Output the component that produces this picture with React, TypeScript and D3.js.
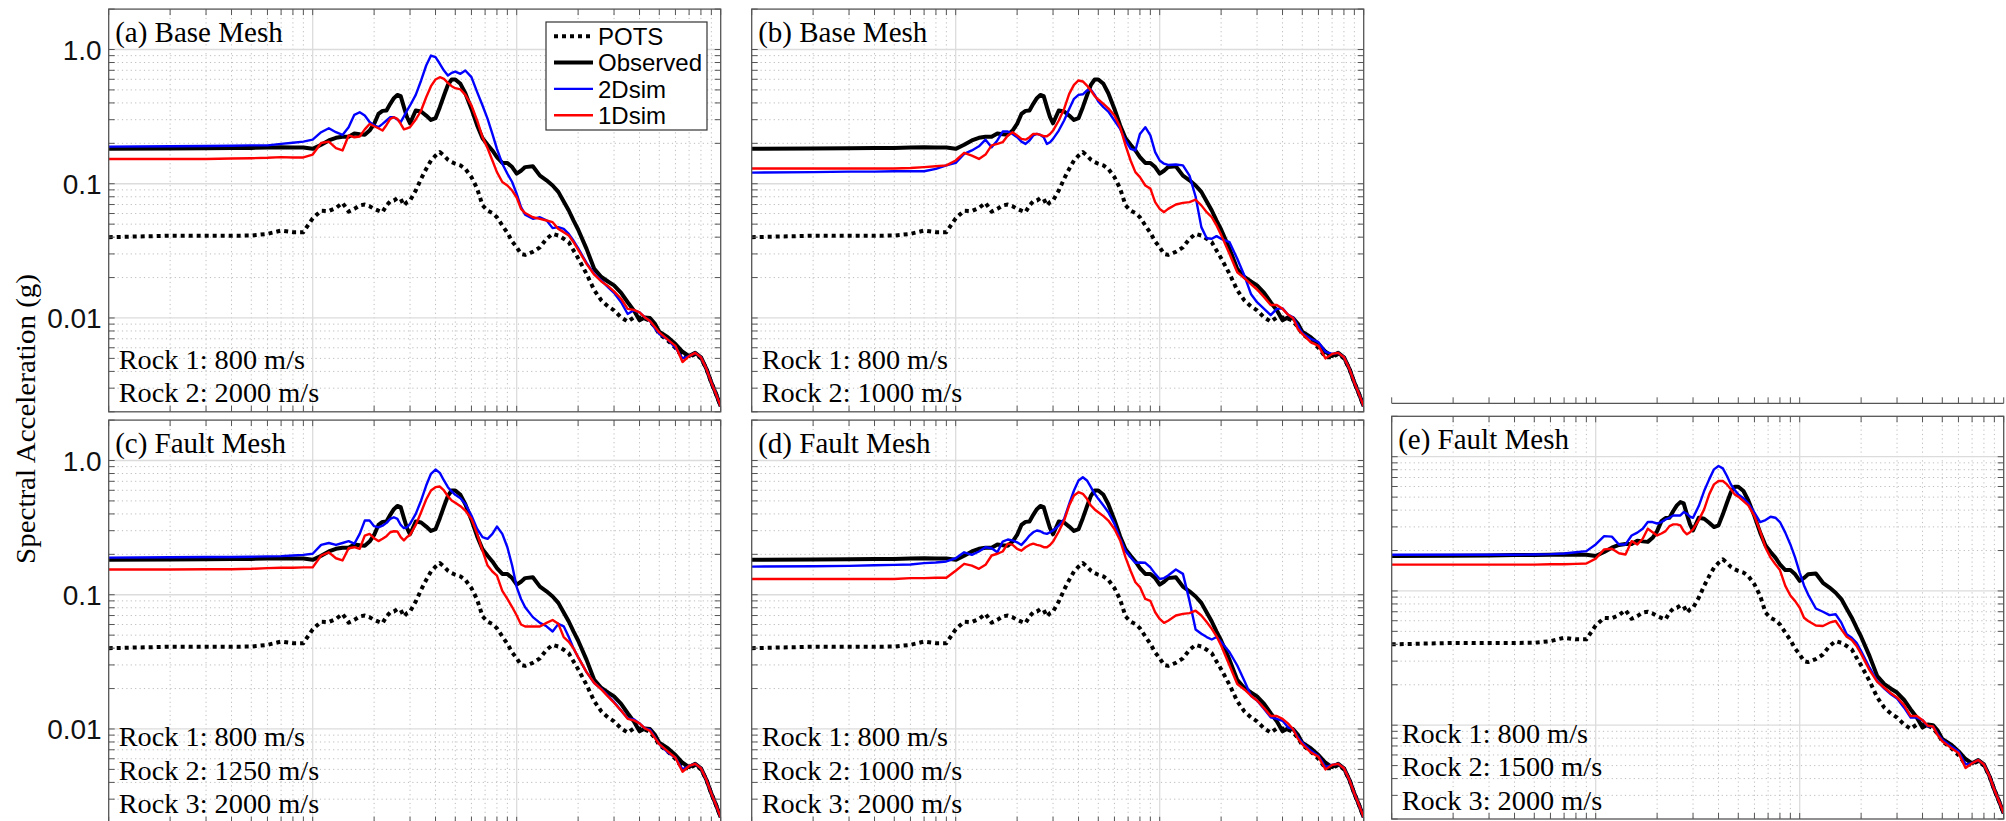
import React from 'react';
import * as d3 from 'd3';

// Period (s)
const periods = [
  0.01, 0.02, 0.03, 0.04, 0.05, 0.06, 0.07, 0.08, 0.09, 0.1,
  0.11, 0.12, 0.13, 0.14, 0.15, 0.16, 0.17, 0.18, 0.19, 0.2,
  0.21, 0.22, 0.23, 0.24, 0.25, 0.26, 0.27, 0.28, 0.29, 0.3,
  0.32, 0.34, 0.36, 0.38, 0.4, 0.42, 0.44, 0.46, 0.48, 0.5,
  0.53, 0.56, 0.6, 0.64, 0.68, 0.72, 0.76, 0.8, 0.85, 0.9,
  0.95, 1.0, 1.05, 1.1, 1.2, 1.3, 1.4, 1.5, 1.6, 1.7,
  1.8, 1.9, 2.0, 2.2, 2.4, 2.6, 2.8, 3.0, 3.25, 3.5,
  3.75, 4.0, 4.25, 4.5, 4.75, 5.0, 5.5, 6.0, 6.5, 7.0,
  7.5, 8.0, 8.5, 9.0, 9.5, 10,
];

const observedSA = [
  0.182, 0.183, 0.184, 0.185, 0.185, 0.186, 0.187, 0.186, 0.186, 0.182,
  0.195, 0.210, 0.220, 0.224, 0.224, 0.237, 0.234, 0.232, 0.249, 0.279,
  0.331, 0.349, 0.351, 0.394, 0.434, 0.459, 0.449, 0.372, 0.313, 0.282,
  0.351, 0.345, 0.322, 0.299, 0.308, 0.372, 0.454, 0.545, 0.598, 0.598,
  0.555, 0.472, 0.361, 0.272, 0.218, 0.195, 0.177, 0.158, 0.143, 0.143,
  0.133, 0.119, 0.125, 0.133, 0.135, 0.115, 0.106, 0.097, 0.087, 0.0737,
  0.0632, 0.0532, 0.0456, 0.0327, 0.0232, 0.0202, 0.0187, 0.0175, 0.0154, 0.0131,
  0.0114, 0.0096, 0.0101, 0.0100, 0.0091, 0.0079, 0.0072, 0.0064, 0.0056, 0.0052,
  0.0055, 0.0051, 0.0042, 0.0033, 0.0027, 0.0022,
];

const potsSA = [
  0.040, 0.041, 0.041, 0.041, 0.0411, 0.0423, 0.0448, 0.0436, 0.0436, 0.0553,
  0.063, 0.0626, 0.066, 0.072, 0.062, 0.065, 0.069, 0.070, 0.068, 0.065,
  0.063, 0.0614, 0.069, 0.074, 0.075, 0.078, 0.077, 0.069, 0.073, 0.075,
  0.089, 0.109, 0.129, 0.149, 0.162, 0.172, 0.162, 0.151, 0.145, 0.141,
  0.137, 0.129, 0.112, 0.092, 0.069, 0.063, 0.0605, 0.0563, 0.0489, 0.0431,
  0.0372, 0.0336, 0.0300, 0.0295, 0.0311, 0.0336, 0.0389, 0.0423, 0.0411, 0.0389,
  0.0367, 0.0318, 0.0279, 0.0213, 0.0161, 0.0135, 0.0122, 0.0114, 0.0101, 0.0094,
  0.0101, 0.0101, 0.0099, 0.0095, 0.0086, 0.0076, 0.0068, 0.0060, 0.0051, 0.0051,
  0.0054, 0.0050, 0.0042, 0.0033, 0.0027, 0.0022,
];

const sim2D_a = [
  0.189, 0.190, 0.191, 0.192, 0.193, 0.193, 0.198, 0.202, 0.206, 0.213,
  0.242, 0.259, 0.242, 0.231, 0.264, 0.326, 0.341, 0.322, 0.288, 0.272,
  0.264, 0.279, 0.296, 0.313, 0.313, 0.301, 0.288, 0.318, 0.351, 0.383,
  0.459, 0.588, 0.760, 0.902, 0.877, 0.783, 0.697, 0.640, 0.670, 0.685,
  0.659, 0.697, 0.622, 0.481, 0.383, 0.304, 0.235, 0.182, 0.141, 0.119,
  0.103, 0.084, 0.067, 0.0589, 0.0548, 0.0563, 0.0534, 0.0467, 0.0475, 0.0461,
  0.0423, 0.0376, 0.0331, 0.0257, 0.0213, 0.0190, 0.0170, 0.0154, 0.0131, 0.0107,
  0.0114, 0.0110, 0.0101, 0.0095, 0.0084, 0.0076, 0.0069, 0.0060, 0.0050, 0.0052,
  0.0055, 0.0051, 0.0042, 0.0033, 0.0027, 0.0022,
];

const sim1D_a = [
  0.153, 0.153, 0.153, 0.154, 0.155, 0.156, 0.158, 0.157, 0.157, 0.165,
  0.201, 0.206, 0.184, 0.177, 0.229, 0.222, 0.225, 0.254, 0.279, 0.268,
  0.259, 0.249, 0.274, 0.304, 0.313, 0.304, 0.279, 0.254, 0.259, 0.264,
  0.301, 0.351, 0.441, 0.533, 0.598, 0.622, 0.604, 0.565, 0.533, 0.515,
  0.504, 0.459, 0.383, 0.296, 0.222, 0.184, 0.149, 0.122, 0.103, 0.097,
  0.089, 0.079, 0.065, 0.0605, 0.0563, 0.0548, 0.0532, 0.0517, 0.0461, 0.0436,
  0.0411, 0.0367, 0.0323, 0.0253, 0.0210, 0.0187, 0.0173, 0.0158, 0.0139, 0.0117,
  0.0115, 0.0110, 0.0101, 0.0095, 0.0086, 0.0078, 0.0069, 0.0062, 0.0047, 0.0052,
  0.0055, 0.0051, 0.0042, 0.0033, 0.0027, 0.0022,
];

const sim2D_b = [
  0.121, 0.122, 0.123, 0.123, 0.124, 0.124, 0.124, 0.129, 0.137, 0.143,
  0.167, 0.177, 0.190, 0.213, 0.187, 0.210, 0.245, 0.245, 0.235, 0.222,
  0.206, 0.198, 0.210, 0.229, 0.235, 0.231, 0.222, 0.198, 0.204, 0.216,
  0.249, 0.296, 0.361, 0.429, 0.459, 0.464, 0.495, 0.503, 0.459, 0.410,
  0.372, 0.345, 0.296, 0.256, 0.210, 0.182, 0.177, 0.235, 0.264, 0.229,
  0.172, 0.149, 0.141, 0.138, 0.139, 0.137, 0.115, 0.080, 0.0475, 0.0393,
  0.0389, 0.0407, 0.0389, 0.0367, 0.0276, 0.0207, 0.0151, 0.0131, 0.0117, 0.0105,
  0.0117, 0.0118, 0.0106, 0.0101, 0.0088, 0.0077, 0.0070, 0.0066, 0.0056, 0.0054,
  0.0055, 0.0051, 0.0042, 0.0033, 0.0027, 0.0022,
];

const sim1D_b = [
  0.130, 0.130, 0.130, 0.130, 0.130, 0.131, 0.133, 0.135, 0.137, 0.149,
  0.170, 0.162, 0.153, 0.165, 0.193, 0.198, 0.204, 0.229, 0.242, 0.229,
  0.216, 0.213, 0.222, 0.235, 0.235, 0.231, 0.226, 0.226, 0.235, 0.249,
  0.296, 0.361, 0.467, 0.545, 0.588, 0.578, 0.539, 0.495, 0.449, 0.424,
  0.394, 0.365, 0.322, 0.264, 0.193, 0.149, 0.122, 0.112, 0.097, 0.092,
  0.073, 0.065, 0.0614, 0.065, 0.070, 0.072, 0.073, 0.076, 0.069, 0.0614,
  0.0563, 0.0489, 0.0416, 0.0300, 0.0219, 0.0198, 0.0179, 0.0163, 0.0143, 0.0125,
  0.0125, 0.0117, 0.0106, 0.0100, 0.0083, 0.0076, 0.0066, 0.0062, 0.0050, 0.0054,
  0.0055, 0.0051, 0.0042, 0.0033, 0.0027, 0.0022,
];

const sim2D_c = [
  0.189, 0.190, 0.191, 0.191, 0.192, 0.193, 0.194, 0.196, 0.198, 0.202,
  0.235, 0.243, 0.235, 0.243, 0.251, 0.240, 0.284, 0.357, 0.357, 0.324,
  0.318, 0.327, 0.343, 0.367, 0.378, 0.367, 0.331, 0.313, 0.318, 0.337,
  0.400, 0.504, 0.651, 0.796, 0.857, 0.809, 0.710, 0.633, 0.588, 0.555,
  0.524, 0.475, 0.389, 0.309, 0.269, 0.261, 0.284, 0.322, 0.284, 0.226,
  0.165, 0.114, 0.093, 0.0808, 0.0681, 0.0617, 0.0582, 0.0532, 0.0607, 0.0582,
  0.0484, 0.0398, 0.0343, 0.0265, 0.0220, 0.0199, 0.0177, 0.0159, 0.0137, 0.0120,
  0.0118, 0.0110, 0.0101, 0.0099, 0.0087, 0.0077, 0.0067, 0.0061, 0.0050, 0.0053,
  0.0055, 0.0051, 0.0042, 0.0033, 0.0027, 0.0022,
];

const sim1D_c = [
  0.154, 0.154, 0.155, 0.155, 0.156, 0.158, 0.159, 0.159, 0.160, 0.160,
  0.196, 0.207, 0.187, 0.180, 0.222, 0.226, 0.220, 0.276, 0.284, 0.264,
  0.251, 0.261, 0.273, 0.292, 0.297, 0.296, 0.269, 0.254, 0.269, 0.279,
  0.331, 0.412, 0.512, 0.598, 0.633, 0.640, 0.598, 0.542, 0.504, 0.484,
  0.457, 0.424, 0.367, 0.284, 0.213, 0.165, 0.149, 0.139, 0.107, 0.093,
  0.081, 0.070, 0.060, 0.058, 0.058, 0.058, 0.0617, 0.0648, 0.0607, 0.0484,
  0.0446, 0.0398, 0.0343, 0.0265, 0.0220, 0.0197, 0.0175, 0.0157, 0.0137, 0.0119,
  0.0116, 0.0110, 0.0101, 0.0097, 0.0086, 0.0077, 0.0068, 0.0061, 0.0048, 0.0053,
  0.0055, 0.0051, 0.0042, 0.0033, 0.0027, 0.0022,
];

const sim2D_d = [
  0.162, 0.163, 0.164, 0.166, 0.167, 0.168, 0.172, 0.174, 0.177, 0.187,
  0.207, 0.198, 0.210, 0.226, 0.222, 0.207, 0.249, 0.258, 0.254, 0.246,
  0.235, 0.254, 0.276, 0.292, 0.301, 0.297, 0.288, 0.284, 0.292, 0.301,
  0.327, 0.367, 0.475, 0.598, 0.710, 0.751, 0.710, 0.633, 0.565, 0.518,
  0.462, 0.412, 0.337, 0.261, 0.213, 0.190, 0.173, 0.174, 0.173, 0.160,
  0.143, 0.131, 0.133, 0.139, 0.154, 0.143, 0.090, 0.0551, 0.0512, 0.0484,
  0.0464, 0.0484, 0.0446, 0.0373, 0.0297, 0.0229, 0.0177, 0.0163, 0.0141, 0.0122,
  0.0119, 0.0115, 0.0103, 0.0100, 0.0087, 0.0079, 0.0069, 0.0063, 0.0052, 0.0054,
  0.0055, 0.0051, 0.0042, 0.0033, 0.0027, 0.0022,
];

const sim1D_d = [
  0.131, 0.131, 0.131, 0.131, 0.131, 0.133, 0.133, 0.134, 0.134, 0.151,
  0.170, 0.165, 0.156, 0.167, 0.196, 0.202, 0.210, 0.240, 0.235, 0.220,
  0.213, 0.226, 0.235, 0.240, 0.235, 0.232, 0.226, 0.226, 0.235, 0.249,
  0.296, 0.357, 0.462, 0.549, 0.581, 0.565, 0.518, 0.462, 0.432, 0.412,
  0.385, 0.357, 0.309, 0.254, 0.190, 0.151, 0.124, 0.114, 0.093, 0.090,
  0.074, 0.066, 0.0617, 0.064, 0.070, 0.072, 0.073, 0.076, 0.070, 0.0626,
  0.0557, 0.049, 0.0418, 0.0297, 0.0216, 0.0197, 0.0177, 0.0163, 0.0143, 0.0125,
  0.0125, 0.0119, 0.0110, 0.0100, 0.0085, 0.0077, 0.0067, 0.0062, 0.0050, 0.0054,
  0.0055, 0.0051, 0.0042, 0.0033, 0.0027, 0.0022,
];

const sim2D_e = [
  0.186, 0.186, 0.186, 0.186, 0.187, 0.188, 0.190, 0.194, 0.198, 0.222,
  0.256, 0.254, 0.222, 0.222, 0.259, 0.272, 0.291, 0.326, 0.326, 0.318,
  0.326, 0.341, 0.351, 0.365, 0.365, 0.365, 0.387, 0.376, 0.357, 0.351,
  0.429, 0.555, 0.678, 0.805, 0.852, 0.818, 0.718, 0.622, 0.565, 0.524,
  0.490, 0.449, 0.383, 0.326, 0.337, 0.357, 0.351, 0.326, 0.272, 0.222,
  0.177, 0.137, 0.110, 0.094, 0.074, 0.070, 0.066, 0.067, 0.058, 0.0475,
  0.0448, 0.0411, 0.0356, 0.0268, 0.0213, 0.0187, 0.0170, 0.0158, 0.0135, 0.0114,
  0.0114, 0.0109, 0.0098, 0.0098, 0.0086, 0.0078, 0.0070, 0.0064, 0.0051, 0.0052,
  0.0055, 0.0051, 0.0042, 0.0033, 0.0027, 0.0022,
];

const sim1D_e = [
  0.157, 0.157, 0.157, 0.157, 0.157, 0.158, 0.158, 0.159, 0.160, 0.174,
  0.204, 0.206, 0.191, 0.187, 0.235, 0.222, 0.245, 0.291, 0.274, 0.259,
  0.268, 0.279, 0.304, 0.313, 0.313, 0.308, 0.279, 0.264, 0.274, 0.288,
  0.337, 0.405, 0.524, 0.622, 0.659, 0.659, 0.622, 0.571, 0.524, 0.504,
  0.467, 0.434, 0.361, 0.279, 0.210, 0.177, 0.158, 0.143, 0.109, 0.0925,
  0.084, 0.075, 0.0632, 0.0597, 0.0553, 0.0548, 0.058, 0.0597, 0.0517, 0.0456,
  0.0431, 0.0389, 0.0340, 0.0257, 0.0210, 0.0190, 0.0173, 0.0161, 0.0141, 0.0117,
  0.0117, 0.0109, 0.0099, 0.0098, 0.0084, 0.0076, 0.0068, 0.0062, 0.0048, 0.0052,
  0.0055, 0.0051, 0.0042, 0.0033, 0.0027, 0.0022,
];

const seriesNames = ['POTS', 'Observed', '2Dsim', '1Dsim'];
const yTickValues = [1, 0.1, 0.01];
const yTickLabels = ['1.0', '0.1', '0.01'];
const xDomain: [number, number] = [0.01, 10];
const yDomain: [number, number] = [0.002, 2];

const W = 2006;
const H = 821;
const SERIF = '"Liberation Serif", "Times New Roman", Times, serif';
const SANS = '"Liberation Sans", Arial, Helvetica, sans-serif';
const AXIS_COLOR = '#555';

// Times-compatible advance widths (em) used to size serif strings exactly
const TIMES_W: Record<string, number> = {
  '(': 0.333, ')': 0.333, ' ': 0.25, ':': 0.278, '/': 0.278,
  a: 0.444, b: 0.5, c: 0.444, d: 0.5, e: 0.444, h: 0.5, k: 0.5, l: 0.278,
  m: 0.778, o: 0.5, s: 0.389, t: 0.278, u: 0.5,
  B: 0.667, F: 0.556, M: 0.889, R: 0.667,
};
const serifWidth = (s: string, size: number) =>
  s.split('').reduce((acc, ch) => acc + (TIMES_W[ch] ?? 0.5), 0) * size;

type Panel = {
  id: string;
  x0: number; x1: number; y0: number; y1: number;
  title: string;
  rocks: string[];
  sim2D: number[];
  sim1D: number[];
  yLabels: boolean;
  legend: boolean;
};

const panels: Panel[] = [
  { id: 'a', x0: 108.7, x1: 720.7, y0: 9.1, y1: 411.8, title: '(a) Base Mesh',
    rocks: ['Rock 1: 800 m/s', 'Rock 2: 2000 m/s'], sim2D: sim2D_a, sim1D: sim1D_a, yLabels: true, legend: true },
  { id: 'b', x0: 751.7, x1: 1363.7, y0: 9.1, y1: 411.8, title: '(b) Base Mesh',
    rocks: ['Rock 1: 800 m/s', 'Rock 2: 1000 m/s'], sim2D: sim2D_b, sim1D: sim1D_b, yLabels: false, legend: false },
  { id: 'c', x0: 108.7, x1: 720.7, y0: 420.1, y1: 822.8, title: '(c) Fault Mesh',
    rocks: ['Rock 1: 800 m/s', 'Rock 2: 1250 m/s', 'Rock 3: 2000 m/s'], sim2D: sim2D_c, sim1D: sim1D_c, yLabels: true, legend: false },
  { id: 'd', x0: 751.7, x1: 1363.7, y0: 420.1, y1: 822.8, title: '(d) Fault Mesh',
    rocks: ['Rock 1: 800 m/s', 'Rock 2: 1000 m/s', 'Rock 3: 2000 m/s'], sim2D: sim2D_d, sim1D: sim1D_d, yLabels: false, legend: false },
  { id: 'e', x0: 1391.7, x1: 2003.7, y0: 416.3, y1: 819, title: '(e) Fault Mesh',
    rocks: ['Rock 1: 800 m/s', 'Rock 2: 1500 m/s', 'Rock 3: 2000 m/s'], sim2D: sim2D_e, sim1D: sim1D_e, yLabels: false, legend: false },
];

function logTicks(lo: number, hi: number) {
  const major: number[] = [];
  const minor: number[] = [];
  for (let e = -4; e <= 2; e++) {
    const d = Math.pow(10, e);
    for (let k = 1; k <= 9; k++) {
      const v = +(k * d).toPrecision(3);
      if (v < lo * 0.999 || v > hi * 1.001) continue;
      if (k === 1) major.push(v); else minor.push(v);
    }
  }
  return { major, minor };
}

const xT = logTicks(xDomain[0], xDomain[1]);
const yT = logTicks(yDomain[0], yDomain[1]);
const TICK = 6;
const TITLE_SIZE = 29;
const ROCK_SIZE = 28.3;

function PanelView({ p }: { p: Panel }) {
  const x = d3.scaleLog().domain(xDomain).range([p.x0, p.x1]);
  const y = d3.scaleLog().domain(yDomain).range([p.y1, p.y0]);
  const line = d3.line<[number, number]>().x(d => x(d[0])).y(d => y(d[1]));
  const mk = (vals: number[]) => line(periods.map((t, i) => [t, vals[i]] as [number, number])) || '';
  const clipId = `clip-${p.id}`;
  const innerX = (v: number) => v > xDomain[0] * 1.001 && v < xDomain[1] * 0.999;
  const innerY = (v: number) => v > yDomain[0] * 1.001 && v < yDomain[1] * 0.999;
  const lineH = 33.5;
  const lastBase = p.y1 - 9.5;
  return (
    <g>
      <defs>
        <clipPath id={clipId}>
          <rect x={p.x0} y={p.y0} width={p.x1 - p.x0} height={p.y1 - p.y0} />
        </clipPath>
      </defs>
      <rect x={p.x0} y={p.y0} width={p.x1 - p.x0} height={p.y1 - p.y0} fill="#fff" />
      {/* minor grid */}
      <g stroke="#bdbdbd" strokeWidth={1} strokeDasharray="1.2 3.2" fill="none">
        {xT.minor.filter(innerX).map(v => (
          <line key={'gx' + v} x1={x(v)} x2={x(v)} y1={p.y0} y2={p.y1} />
        ))}
        {yT.minor.filter(innerY).map(v => (
          <line key={'gy' + v} x1={p.x0} x2={p.x1} y1={y(v)} y2={y(v)} />
        ))}
      </g>
      {/* major grid */}
      <g stroke="#dcdcdc" strokeWidth={1.3} fill="none">
        {xT.major.filter(innerX).map(v => (
          <line key={'Gx' + v} x1={x(v)} x2={x(v)} y1={p.y0} y2={p.y1} />
        ))}
        {yT.major.filter(innerY).map(v => (
          <line key={'Gy' + v} x1={p.x0} x2={p.x1} y1={y(v)} y2={y(v)} />
        ))}
      </g>
      {/* data */}
      <g clipPath={`url(#${clipId})`} fill="none" strokeLinejoin="round">
        <path d={mk(potsSA)} stroke="#000" strokeWidth={4} strokeDasharray="4 4" />
        <path d={mk(observedSA)} stroke="#000" strokeWidth={4} />
        <path d={mk(p.sim2D)} stroke="#0000ff" strokeWidth={2.4} />
        <path d={mk(p.sim1D)} stroke="#ff0000" strokeWidth={2.4} />
      </g>
      {/* ticks */}
      <g stroke={AXIS_COLOR} strokeWidth={1}>
        {[...xT.major, ...xT.minor].map(v => (
          <g key={'tx' + v}>
            <line x1={x(v)} x2={x(v)} y1={p.y1} y2={p.y1 - TICK} />
            <line x1={x(v)} x2={x(v)} y1={p.y0} y2={p.y0 + TICK} />
          </g>
        ))}
        {[...yT.major, ...yT.minor].map(v => (
          <g key={'ty' + v}>
            <line x1={p.x0} x2={p.x0 + TICK} y1={y(v)} y2={y(v)} />
            <line x1={p.x1} x2={p.x1 - TICK} y1={y(v)} y2={y(v)} />
          </g>
        ))}
      </g>
      <rect x={p.x0} y={p.y0} width={p.x1 - p.x0} height={p.y1 - p.y0} fill="none" stroke={AXIS_COLOR} strokeWidth={1.3} />
      {p.yLabels && yTickValues.map((v, i) => (
        <text key={'yl' + v} x={p.x0 - 7} y={y(v)} dy="0.36em" textAnchor="end"
          fontFamily={SANS} fontSize={28} fill="#111">{yTickLabels[i]}</text>
      ))}
      <text x={p.x0 + 6.5} y={p.y0 + 32.5} fontFamily={SERIF} fontSize={TITLE_SIZE} fill="#000"
        textLength={serifWidth(p.title, TITLE_SIZE)} lengthAdjust="spacingAndGlyphs">{p.title}</text>
      {p.rocks.map((r, i) => (
        <text key={r + i} x={p.x0 + 10} y={lastBase - (p.rocks.length - 1 - i) * lineH}
          fontFamily={SERIF} fontSize={ROCK_SIZE} fill="#000"
          textLength={serifWidth(r, ROCK_SIZE)} lengthAdjust="spacingAndGlyphs">{r}</text>
      ))}
      {p.legend && <Legend />}
    </g>
  );
}

function Legend() {
  const bx = 546, by = 22, bw = 161, bh = 108;
  const rows = [36.3, 62.6, 88.9, 115.2];
  const styles = [
    { stroke: '#000', w: 4, dash: '4 4' },
    { stroke: '#000', w: 4, dash: undefined },
    { stroke: '#0000ff', w: 2.4, dash: undefined },
    { stroke: '#ff0000', w: 2.4, dash: undefined },
  ];
  return (
    <g>
      <rect x={bx} y={by} width={bw} height={bh} fill="#fff" stroke="#333" strokeWidth={1.2} />
      {seriesNames.map((n, i) => (
        <g key={n}>
          <line x1={554} x2={593} y1={rows[i]} y2={rows[i]} stroke={styles[i].stroke}
            strokeWidth={styles[i].w} strokeDasharray={styles[i].dash} />
          <text x={598} y={rows[i]} dy="0.36em" fontFamily={SANS} fontSize={24} fill="#000">{n}</text>
        </g>
      ))}
    </g>
  );
}

function HiddenAxis() {
  const x0 = 1391.7, x1 = 2003.7, yb = 403.3;
  const x = d3.scaleLog().domain(xDomain).range([x0, x1]);
  return (
    <g stroke={AXIS_COLOR} strokeWidth={1.3}>
      <line x1={x0} x2={x1} y1={yb} y2={yb} />
      {[...xT.major, ...xT.minor].map(v => (
        <line key={'h' + v} x1={x(v)} x2={x(v)} y1={yb} y2={yb - TICK} strokeWidth={1} />
      ))}
    </g>
  );
}

export default function App() {
  const yLabel = 'Spectral Acceleration (g)';
  return (
    <svg width={W} height={H} viewBox={`0 0 ${W} ${H}`}
      style={{ position: 'absolute', left: 0, top: 0, background: '#fff', display: 'block' }}>
      <rect x={0} y={0} width={W} height={H} fill="#fff" />
      {panels.map(p => <PanelView key={p.id} p={p} />)}
      <HiddenAxis />
      <text transform="translate(34.5,419) rotate(-90)" textAnchor="middle" fontFamily={SERIF}
        fontSize={28} fill="#000" textLength={290} lengthAdjust="spacingAndGlyphs">{yLabel}</text>
    </svg>
  );
}
